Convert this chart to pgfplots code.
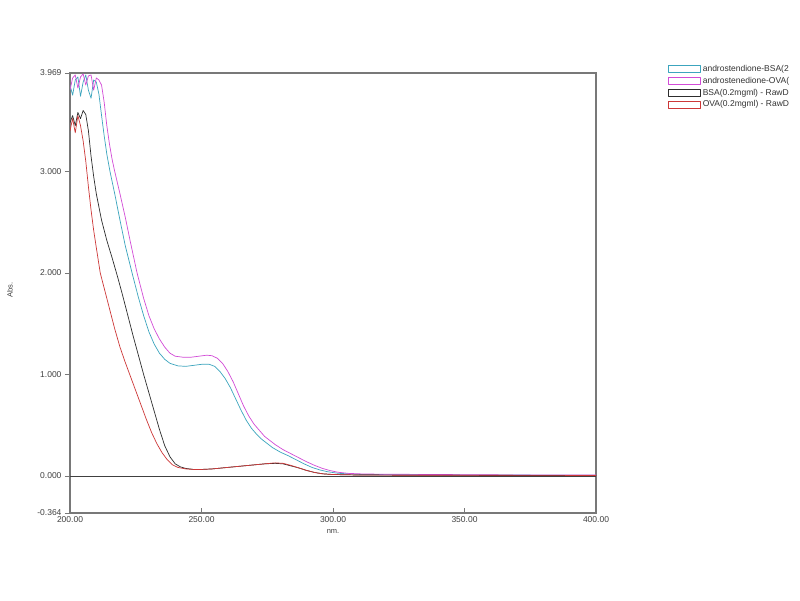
\documentclass[border=0pt]{standalone}
\usepackage{pgfplots}
\pgfplotsset{compat=1.18}
\usepackage{fontspec}
\setmainfont{Liberation Sans}
\definecolor{cBSA}{RGB}{60,165,190}
\definecolor{cOVA}{RGB}{210,75,215}
\definecolor{cB}{RGB}{45,45,45}
\definecolor{cR}{RGB}{205,55,55}
\definecolor{frame}{RGB}{120,120,120}
\begin{document}
\begin{tikzpicture}[x=1pt,y=1pt]
\useasboundingbox (0,0) rectangle (800,600);
\fill[white] (0,0) rectangle (800,600);
\begin{axis}[
  at={(70pt,87pt)}, anchor=south west,
  scale only axis, width=526pt, height=440pt,
  xmin=200, xmax=400, ymin=-0.364, ymax=3.969,
  axis line style={frame, line width=1.2pt},
  xtick={200,250,300,350,400},
  ytick={-0.364,0,1,2,3,3.969},
  xtick pos=bottom, ytick pos=left,
  xtick align=inside, ytick align=outside,
  major tick length=5pt,
  tick style={frame, line width=0.8pt},
  /pgf/number format/assume math mode=true,
  tick label style={font=\fontsize{8.5}{10}\selectfont, text=black!75},
  xticklabel style={yshift=-0.5pt, /pgf/number format/.cd, fixed, fixed zerofill, precision=2},
  yticklabel style={/pgf/number format/.cd, fixed, fixed zerofill, precision=3},
  xlabel={nm.}, ylabel={Abs.},
  xlabel style={at={(axis description cs:0.5,-0.036)}, anchor=north, inner sep=0pt, font=\fontsize{7.5}{9}\selectfont, text=black!75},
  ylabel style={at={(axis description cs:-0.114,0.507)}, anchor=center, font=\fontsize{7.5}{9}\selectfont, text=black!75},
  legend style={at={(axis description cs:1.135,1.025)}, anchor=north west, draw=none, fill=none,
    font=\fontsize{8.5}{9}\selectfont, row sep=0.2pt, inner sep=1pt, text=black!80},
  legend cell align=left,
  legend image code/.code={\draw[#1, line width=0.6pt] (0pt,-3.5pt) rectangle (32pt,3.5pt);},
  every axis plot/.append style={line width=0.7pt, line join=round},
]
\addplot[cBSA] coordinates {
(200,3.85) (201,3.75) (202,3.90) (203,3.93) (204,3.74) (205,3.88) (206,3.95) (207,3.80)
(208,3.72) (209,3.90) (210,3.88) (211,3.76) (212,3.55) (213,3.35) (214,3.17) (215.2,3.00)
(217,2.78) (219,2.52) (221,2.27) (223.6,2.00) (226,1.76) (228,1.58) (230,1.42) (232,1.30)
(234,1.21) (236,1.15) (238,1.11) (241,1.085) (244,1.08) (247,1.09) (250,1.10) (253,1.10)
(255,1.08) (257,1.03) (259,0.96) (261,0.87) (263,0.76) (265,0.65) (267,0.55) (269,0.47)
(271,0.41) (273,0.36) (275,0.32) (277,0.28) (280,0.235) (283,0.20) (286,0.16) (289,0.12)
(292,0.085) (295,0.06) (298,0.042) (302,0.027) (310,0.016) (330,0.012) (360,0.010) (400,0.008)
};
\addlegendentry{androstendione-BSA(2}
\addplot[cOVA] coordinates {
(200,3.80) (201,3.92) (202,3.95) (203,3.82) (204,3.93) (205,3.96) (206,3.85) (207,3.94)
(208,3.95) (209,3.80) (210,3.92) (211,3.90) (212,3.85) (213,3.68) (214,3.45) (215,3.27)
(216,3.12) (217,3.00) (219,2.78) (221,2.55) (223,2.30) (225.5,2.00) (228,1.75) (230,1.58)
(232,1.45) (234,1.35) (236,1.27) (238,1.21) (240,1.18) (243,1.17) (246,1.17) (249,1.18)
(252,1.19) (254,1.185) (256,1.16) (258,1.11) (260,1.03) (262,0.93) (264,0.81) (266,0.69)
(268,0.59) (270,0.51) (272,0.45) (274,0.39) (276,0.35) (278,0.31) (281,0.26) (284,0.22)
(287,0.18) (290,0.14) (293,0.105) (296,0.075) (299,0.053) (302,0.037) (306,0.026) (312,0.02)
(320,0.018) (340,0.015) (360,0.012) (380,0.010) (400,0.010)
};
\addlegendentry{androstenedione-OVA(}
\addplot[cB] coordinates {
(200,3.48) (201,3.55) (202,3.45) (203,3.58) (204,3.52) (205,3.60) (206,3.56) (207,3.40)
(208,3.15) (209,2.95) (210,2.78) (212,2.52) (214,2.32) (216,2.15) (218,1.97) (220,1.78)
(222,1.58) (224,1.38) (226,1.19) (228,1.00) (230,0.82) (232,0.64) (234,0.46) (236,0.30)
(238,0.19) (240,0.12) (242,0.09) (244,0.075) (247,0.065) (250,0.065) (254,0.07) (258,0.08)
(262,0.09) (266,0.10) (270,0.11) (274,0.12) (278,0.125) (281,0.12) (284,0.10) (287,0.08)
(290,0.055) (293,0.035) (296,0.022) (300,0.015) (310,0.010) (330,0.008) (360,0.006) (400,0.005)
};
\addlegendentry{BSA(0.2mgml) - RawD}
\addplot[cR] coordinates {
(200,3.40) (201,3.52) (202,3.38) (203,3.55) (204,3.45) (205,3.30) (206,3.10) (207,2.85)
(208,2.62) (209,2.42) (210,2.25) (211.5,2.00) (213,1.85) (215,1.65) (217,1.45) (219,1.27)
(221,1.12) (223,0.98) (225,0.84) (227,0.70) (229,0.56) (231,0.43) (233,0.32) (235,0.23)
(237,0.16) (239,0.11) (241,0.085) (244,0.07) (247,0.065) (250,0.065) (254,0.07) (258,0.08)
(262,0.09) (266,0.10) (270,0.11) (274,0.12) (278,0.13) (281,0.125) (284,0.105) (287,0.08)
(290,0.055) (293,0.035) (296,0.022) (300,0.015) (310,0.010) (330,0.008) (360,0.007) (400,0.006)
};
\addlegendentry{OVA(0.2mgml) - RawD}
\addplot[black!75, line width=0.9pt, forget plot] coordinates {(200,0) (400,0)};
\end{axis}
\end{tikzpicture}
\end{document}
